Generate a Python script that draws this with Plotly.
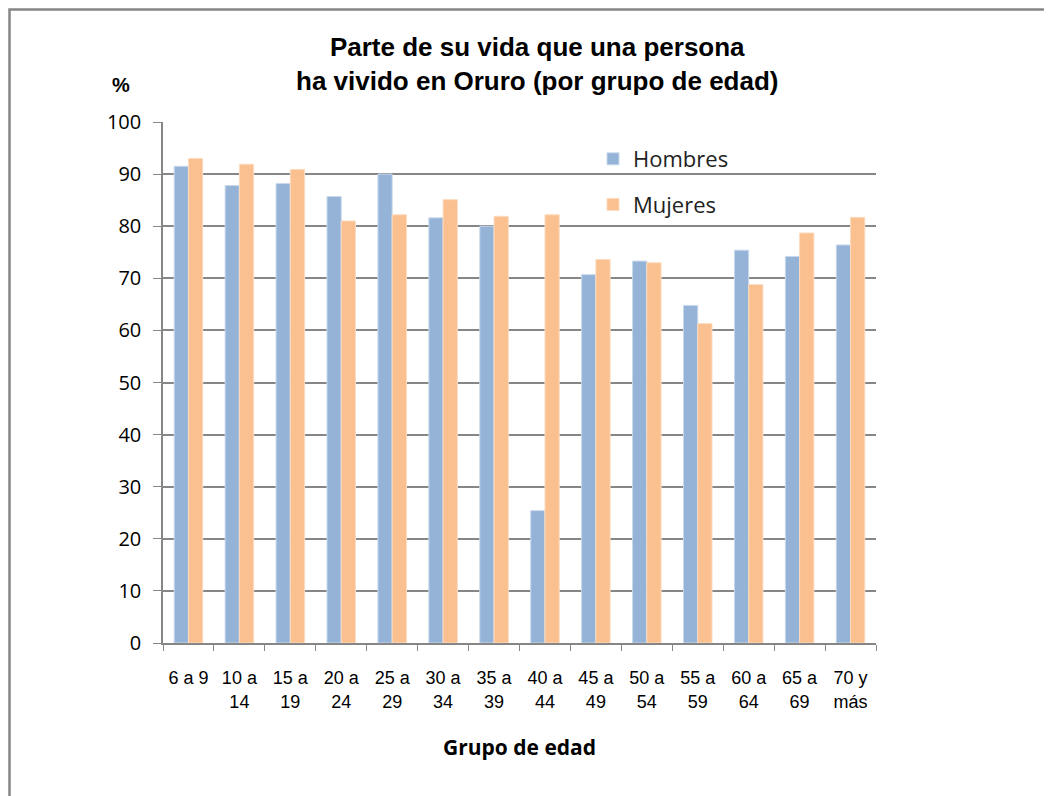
import plotly.graph_objects as go

categories = ["6 a 9", "10 a<br>14", "15 a<br>19", "20 a<br>24", "25 a<br>29", "30 a<br>34",
              "35 a<br>39", "40 a<br>44", "45 a<br>49", "50 a<br>54", "55 a<br>59", "60 a<br>64",
              "65 a<br>69", "70 y<br>más"]
hombres = [91.5, 87.8, 88.2, 85.7, 90.0, 81.6, 80.0, 25.4, 70.7, 73.3, 64.8, 75.4, 74.2, 76.4]
mujeres = [93.0, 91.9, 90.9, 81.0, 82.2, 85.1, 81.9, 82.2, 73.6, 73.0, 61.3, 68.8, 78.7, 81.7]

BLUE = "#95B3D7"
ORANGE = "#FAC090"
GRID = "#868686"

# page offset (body margin) and layout geometry in screen pixels
OFF = 8
W, H = 1052 - OFF, 796 - OFF
L, R, T, B = 163 - OFF, 176, 122 - OFF, 153
pw, ph = W - L - R, H - T - B

def px(x):
    return (x - OFF - L) / pw

def py(y):
    return 1 - (y - OFF - T) / ph

fig = go.Figure()
fig.add_trace(go.Bar(x=categories, y=hombres, name="Hombres", marker_color=BLUE,
                     marker_line=dict(color="#C9D9EC", width=1), legendgroup="h"))
fig.add_trace(go.Bar(x=categories, y=mujeres, name="Mujeres", marker_color=ORANGE,
                     marker_line=dict(color="#FCDCC0", width=1), legendgroup="m"))

fig.update_layout(
    width=W, height=H,
    margin=dict(l=L, r=R, t=T, b=B),
    paper_bgcolor="white", plot_bgcolor="white",
    barmode="group", bargap=0.44, bargroupgap=0.0,
    font=dict(family="Liberation Sans", color="black"),
    showlegend=True,
    legend=dict(x=px(593), y=py(138), xanchor="left", yanchor="top",
                font=dict(family="Open Sans", size=22, color="#222222"),
                bgcolor="rgba(0,0,0,0)", tracegroupgap=14, itemwidth=30),
    xaxis=dict(
        type="category", tickson="boundaries", ticks="outside", ticklen=6, tickcolor=GRID,
        showline=True, linecolor=GRID, linewidth=1.5, showgrid=False,
        tickfont=dict(family="Liberation Sans", size=18, color="black"),
        ticklabelstandoff=18,
        title=dict(text="<b>Grupo de edad</b>", font=dict(family="Open Sans", size=21, color="black"),
                   standoff=30),
    ),
    yaxis=dict(
        range=[0, 100], dtick=10, ticks="outside", ticklen=8, tickcolor=GRID,
        showline=True, linecolor=GRID, linewidth=1.5,
        showgrid=True, gridcolor=GRID, gridwidth=1.5,
        tickfont=dict(family="Open Sans", size=20, color="black"),
        ticklabelstandoff=8,
    ),
)

fig.add_annotation(text="<b>Parte de su vida que una persona<br>ha vivido en Oruro (por grupo de edad)</b>",
                   x=px(537), y=py(64), xref="paper", yref="paper", showarrow=False,
                   font=dict(family="Liberation Sans", size=26, color="black"),
                   xanchor="center", yanchor="middle")
fig.add_annotation(text="<b>%</b>", x=px(121), y=py(85), xref="paper", yref="paper",
                   showarrow=False, font=dict(family="Liberation Sans", size=20, color="black"),
                   xanchor="center", yanchor="middle")
fig.add_shape(type="rect", xref="paper", yref="paper", x0=px(9.5), x1=px(1070), y0=py(820), y1=py(9.5),
              line=dict(color=GRID, width=2.5), layer="below")

fig.write_html("out.html")
